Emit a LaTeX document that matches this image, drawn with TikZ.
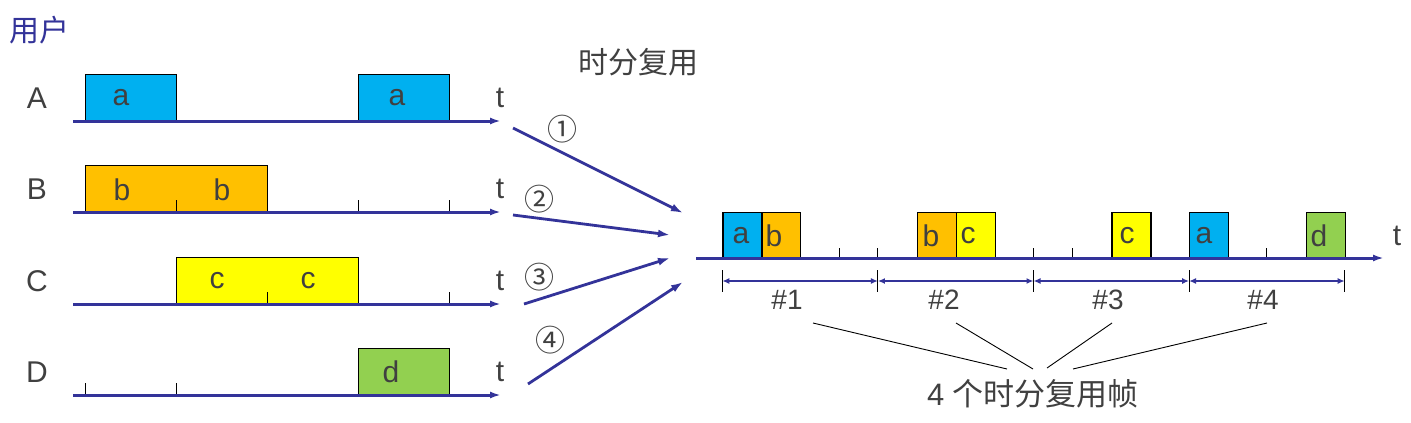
\documentclass[tikz,border=0pt]{standalone}
\usepackage{fontspec}
\setmainfont{Liberation Sans}
\newfontfamily\cjk{Noto Sans CJK SC}
\usetikzlibrary{arrows.meta}

\definecolor{axisblue}{HTML}{333399}
\definecolor{txtgray}{HTML}{404040}
\definecolor{cblue}{HTML}{00B0F0}
\definecolor{corange}{HTML}{FFC000}
\definecolor{cyellow}{HTML}{FFFF00}
\definecolor{cgreen}{HTML}{92D050}

\begin{document}
\begin{tikzpicture}[x=1pt,y=-1pt]
        \useasboundingbox (0,0) rectangle (1411,423);

        \edef\slotw{38.9}
        \tikzstyle{axis}=[line width=3pt,draw=axisblue,-{Latex[length=11pt,width=7pt]}]
        \tikzstyle{feed}=[line width=2.8pt,draw=axisblue,-{Latex[length=12pt,width=8pt]}]
        \tikzstyle{dim}=[line width=2.4pt,draw=axisblue,{Latex[length=7pt,width=6pt]}-{Latex[length=7pt,width=6pt]}]
        \tikzstyle{slot}=[draw,line width=1.3pt,anchor=south west,inner sep=0pt,minimum height=46pt]
        \tikzstyle{tick}=[line width=1pt]
        \tikzstyle{lbl}=[inner sep=0pt,text=txtgray,font=\fontsize{30pt}{30pt}\selectfont]
        \tikzstyle{num}=[inner sep=0pt,text=txtgray,font=\fontsize{28pt}{28pt}\selectfont]
        \tikzstyle{zh}=[inner sep=0pt,text=txtgray,font=\cjk\fontsize{30pt}{30pt}\selectfont]

        \node [zh,text=axisblue,anchor=west] (user) at (9,30) {用户};
        \node [zh] (tdm) at (638,62) {时分复用};

        % the four users
        \foreach \u/\y in {A/121, B/212, C/304, D/395} {
            \coordinate (\u_from) at (73,\y);
            \coordinate (\u_to) at (501,\y);
            \node [lbl] (\u_name) at (37,\y-23) {\u};
            \node [lbl] (\u_t) at (500,\y-23) {t};
        };
        \foreach \n/\x/\y/\w/\c in {boxA1/85/121/91pt/cblue, boxA2/358/121/91pt/cblue,
                boxB/85/212/182pt/corange, boxC/176/304/182pt/cyellow, boxD/358/395/91pt/cgreen} {
            \node [slot,minimum width=\w,fill=\c] (\n) at (\x,\y) {};
        };
        \foreach \x/\y in {176/212, 358/212, 449/212, 267/304, 449/304, 85/395, 176/395} {
            \draw [tick] (\x,\y) -- ++(0,-12);
        };
        \foreach \u in {A, B, C, D} {
            \draw [axis] (\u_from) -- (\u_to);
        };

        %letters in the user boxes
        \foreach \n/\x/\y/\t in {la1/121/98/a, la2/397/98/a, lb1/122/190/b, lb2/222/190/b,
                lc1/217/281/c, lc2/308/281/c, ld1/391/372/d} {
            \node [lbl] (\n) at (\x,\y) {\t};
        };

        % into the multiplexer
        \coordinate (p1) at (513,128);  \coordinate (q1) at (683,213);
        \coordinate (p2) at (513,215);  \coordinate (q2) at (670,235);
        \coordinate (p3) at (524,304);  \coordinate (q3) at (670,258);
        \coordinate (p4) at (528,384);  \coordinate (q4) at (683,282);
        \foreach \i in {1,...,4} {
            \draw [feed] (p\i) -- (q\i);
        };
        \node [zh] (c1) at (562,129) {①};
        \node [zh] (c2) at (539,199) {②};
        \node [zh] (c3) at (539,277) {③};
        \node [zh] (c4) at (550,340) {④};

        % multiplexed line
        \coordinate (m0) at (696,258);
        \coordinate (m1) at (1384,258);
        \foreach \n/\k/\c in {R1/0/cblue, R2/1/corange, R3/5/corange, R4/6/cyellow,
                R5/10/cyellow, R6/12/cblue, R7/15/cgreen} {
            \node [slot,minimum width=\slotw pt,minimum height=45pt,fill=\c] (\n) at (722.3+\slotw*\k,258) {};
        };
        \foreach \k in {3,4,8,9,14} {
            \draw [tick] (722.3+\slotw*\k,258) -- ++(0,-10.5);
        };
        \draw [axis] (m0) -- (m1);
        \node [lbl] (mt) at (1397,236) {t};
        \foreach \n/\x/\t in {r1/741/a, r2/774/b, r3/931/b, r4/968/c, r5/1127/c, r6/1204/a, r7/1319/d} {
            \node [lbl] (\n) at (\x,236) {\t};
        };

        % frames
        \foreach \i in {0,...,4} {
            \coordinate (fb\i) at (722.3+155.6*\i,281);
            \draw [tick] (fb\i) ++(0,-11) -- ++(0,22);
        };
        \foreach \i [count=\j from 1] in {0,...,3} {
            \draw [dim] (fb\i) -- (fb\j);
        };
        \node [num] (f1) at (787,300) {\#1};
        \node [num] (f2) at (944,300) {\#2};
        \node [num] (f3) at (1108,300) {\#3};
        \node [num] (f4) at (1263,300) {\#4};

        \node [lbl,font=\fontsize{31pt}{31pt}\selectfont] (frames) at (1033,394) {4 {\cjk 个时分复用帧}};
        \coordinate (s1) at (813,323);  \coordinate (j1) at (1007,369);
        \coordinate (s2) at (956,323);  \coordinate (j2) at (1033,369);
        \coordinate (s3) at (1112,323); \coordinate (j3) at (1047,368);
        \coordinate (s4) at (1267,323); \coordinate (j4) at (1073,369);
        \foreach \i in {1,...,4} {
            \draw [line width=0.9pt] (s\i) -- (j\i);
        };
\end{tikzpicture}
\end{document}
